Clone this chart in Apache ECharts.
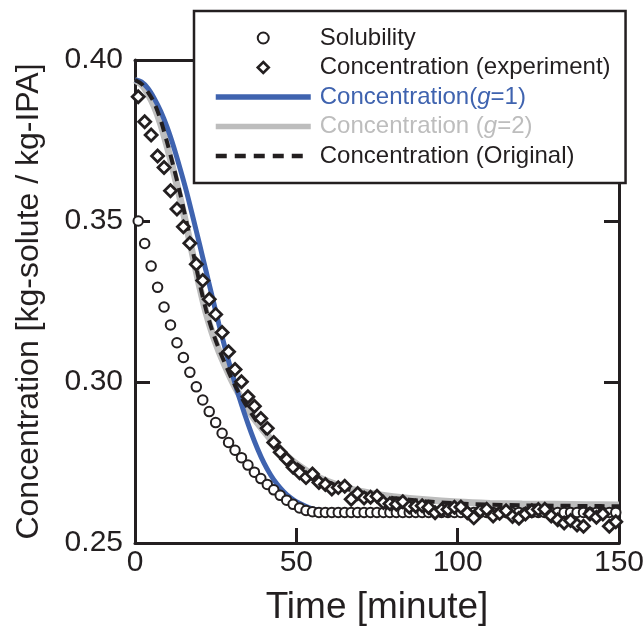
<!DOCTYPE html>
<html><head><meta charset="utf-8">
<script src="https://cdn.jsdelivr.net/npm/echarts@6/dist/echarts.min.js"></script>
<style>html,body{margin:0;padding:0;background:#fff}#chart{width:643px;height:632px}</style>
</head><body><div id="chart"></div>
<script>
// ---- data ----
const xTicks = [0, 50, 100, 150];
const yTicks = [0.25, 0.30, 0.35, 0.40];

const pointTime = [1,3,5,7,9,11,13,15,17,19,21,23,25,27,29,31,33,35,37,39,41,43,45,47,49,51,53,55,57,59,61,63,65,67,69,71,73,75,77,79,81,83,85,87,89,91,93,95,97,99,101,103,105,107,109,111,113,115,117,119,121,123,125,127,129,131,133,135,137,139,141,143,145,147,149];

const solubility = [0.3500,0.3430,0.3360,0.3294,0.3233,0.3177,0.3122,0.3076,0.3030,0.2985,0.2944,0.2908,0.2874,0.2841,0.2812,0.2788,0.2765,0.2742,0.2720,0.2700,0.2682,0.2665,0.2648,0.2633,0.2620,0.2609,0.2601,0.2597,
0.2595,0.2595,0.2595,0.2595,0.2595,0.2595,0.2595,0.2595,0.2595,0.2595,0.2595,0.2595,0.2595,0.2595,0.2595,0.2595,0.2595,0.2595,0.2595,0.2595,0.2595,0.2595,0.2595,0.2595,0.2595,0.2595,0.2595,0.2595,0.2595,0.2595,0.2595,0.2595,0.2595,0.2595,0.2595,0.2595,0.2595,0.2595,0.2595,0.2595,0.2595,0.2595,0.2595,0.2595,0.2595,0.2595,0.2595];

const experiment = [0.3886,0.3808,0.3767,0.3702,0.3666,0.3594,0.3537,0.3482,0.3431,0.3366,0.3315,0.3257,0.3210,0.3154,0.3094,0.3039,0.3001,0.2954,0.2925,0.2887,0.2856,0.2812,0.2782,0.2760,0.2735,0.2718,0.2703,0.2714,0.2688,0.2682,0.2668,0.2672,0.2676,0.2636,0.2654,0.2640,0.2642,0.2645,0.2626,0.2622,0.2620,0.2628,0.2612,0.2614,0.2616,0.2610,0.2594,0.2603,0.2604,0.2611,0.2612,0.2594,0.2578,0.2600,0.2605,0.2584,0.2592,0.2600,0.2582,0.2577,0.2590,0.2600,0.2604,0.2605,0.2584,0.2572,0.2562,0.2570,0.2556,0.2552,0.2590,0.2580,0.2590,0.2552,0.2566];

const lineTime = [0,2,4,6,8,10,12,14,16,18,20,22,24,26,28,30,32,34,36,38,40,42,44,46,48,50,55,60,65,70,75,80,90,100,110,120,130,140,150];

const modelG1 = [0.3938,0.3932,0.3912,0.3880,0.3840,0.3790,0.3730,0.3662,0.3590,0.3510,0.3428,0.3345,0.3262,0.3180,0.3102,0.3030,0.2962,0.2900,0.2843,0.2792,0.2748,0.2712,0.2683,0.2660,0.2642,0.2628,0.2606,0.2599,0.2597,0.2597,0.2597,0.2597,0.2597,0.2597,0.2597,0.2597,0.2597,0.2597,0.2597];

const modelG2 = [0.3938,0.3924,0.3895,0.3855,0.3800,0.3730,0.3652,0.3570,0.3482,0.3390,0.3298,0.3216,0.3150,0.3096,0.3049,0.3005,0.2966,0.2931,0.2900,0.2872,0.2847,0.2823,0.2801,0.2780,0.2762,0.2746,0.2713,0.2690,0.2673,0.2660,0.2651,0.2644,0.2634,0.2627,0.2623,0.2621,0.2620,0.2619,0.2618];

const modelOriginal = [0.3938,0.3926,0.3900,0.3866,0.3812,0.3742,0.3666,0.3585,0.3495,0.3402,0.3308,0.3225,0.3158,0.3103,0.3055,0.3010,0.2970,0.2935,0.2903,0.2875,0.2849,0.2825,0.2802,0.2781,0.2762,0.2746,0.2712,0.2688,0.2670,0.2657,0.2647,0.2640,0.2630,0.2623,0.2619,0.2617,0.2616,0.2615,0.2614];

const seriesNames = ['Solubility', 'Concentration (experiment)', 'Concentration(g=1)', 'Concentration (g=2)', 'Concentration (Original)'];

// ---- styles ----
const FONT = "'Liberation Sans', Arial, Helvetica, sans-serif";
const INK = '#231F20';
const BLUE = '#3F63AF';
const GRAY = '#BDBDBD';
const DIAMOND_PATH = 'path://M5,0L10,5L5,10L0,5Z';

const pair = (xs, ys) => xs.map((x, i) => [x, ys[i]]);

const axisCommon = {
  type: 'value',
  axisLine: {show: true, onZero: false, lineStyle: {color: INK, width: 3}},
  axisTick: {show: true, inside: true, length: 15, lineStyle: {color: INK, width: 3}},
  splitLine: {show: false}
};

const chart = echarts.init(document.getElementById('chart'), null, {renderer: 'canvas'});
chart.setOption({
  animation: false,
  backgroundColor: '#ffffff',
  grid: {left: 135, right: 24, top: 60, bottom: 89, containLabel: false, outerBoundsMode: 'none'},
  xAxis: [
    Object.assign({}, axisCommon, {
      min: xTicks[0], max: xTicks[xTicks.length - 1], interval: xTicks[1] - xTicks[0],
      position: 'bottom',
      axisLabel: {show: true, fontSize: 30, fontFamily: FONT, color: INK, margin: 5},
      name: 'Time [minute]', nameLocation: 'middle', nameGap: 46,
      nameTextStyle: {fontSize: 37, fontFamily: FONT, color: INK}
    }),
    Object.assign({}, axisCommon, {
      min: xTicks[0], max: xTicks[xTicks.length - 1], interval: xTicks[1] - xTicks[0],
      position: 'top', axisLabel: {show: false}
    })
  ],
  yAxis: [
    Object.assign({}, axisCommon, {
      min: yTicks[0], max: yTicks[yTicks.length - 1], interval: 0.05,
      position: 'left',
      axisLabel: {show: true, fontSize: 30, fontFamily: FONT, color: INK, margin: 12,
                  formatter: v => v.toFixed(2)},
      name: 'Concentration [kg-solute / kg-IPA]', nameLocation: 'middle', nameGap: 90,
      nameTextStyle: {fontSize: 32, fontFamily: FONT, color: INK}
    }),
    Object.assign({}, axisCommon, {
      min: yTicks[0], max: yTicks[yTicks.length - 1], interval: 0.05,
      position: 'right', axisLabel: {show: false}
    })
  ],
  legend: {
    orient: 'vertical', left: 194, top: 11,
    padding: [15, 15, 15, 19],
    itemWidth: 95, itemHeight: 11, itemGap: 5.5,
    symbolKeepAspect: true,
    selectedMode: false,
    backgroundColor: '#ffffff', borderColor: INK, borderWidth: 2.5, borderRadius: 0,
    textStyle: {
      fontFamily: FONT, fontSize: 24, lineHeight: 24, color: INK, padding: [0, 0, 0, 4],
      rich: {
        ib: {fontFamily: FONT, fontSize: 24, lineHeight: 24, fontStyle: 'italic', color: BLUE},
        ig: {fontFamily: FONT, fontSize: 24, lineHeight: 24, fontStyle: 'italic', color: GRAY}
      }
    },
    formatter: function (name) {
      if (name === seriesNames[2]) return 'Concentration({ib|g}=1)';
      if (name === seriesNames[3]) return 'Concentration ({ig|g}=2)';
      return name;
    },
    data: [
      {name: seriesNames[0], itemStyle: {borderWidth: 2}},
      {name: seriesNames[1], icon: DIAMOND_PATH, itemStyle: {borderWidth: 2.6}},
      {name: seriesNames[2], textStyle: {color: BLUE}, itemStyle: {opacity: 0},
       lineStyle: {width: 5.5, color: BLUE}},
      {name: seriesNames[3], textStyle: {color: GRAY}, itemStyle: {opacity: 0},
       lineStyle: {width: 5.5, color: GRAY}},
      {name: seriesNames[4], itemStyle: {opacity: 0},
       lineStyle: {width: 4.5, color: INK, type: [11, 8]}}
    ]
  },
  series: [
    {
      name: seriesNames[3], type: 'line', data: pair(lineTime, modelG2),
      symbol: 'none', smooth: 0.3, silent: true, z: 2,
      lineStyle: {color: GRAY, width: 7}, itemStyle: {color: GRAY}
    },
    {
      name: seriesNames[2], type: 'line', data: pair(lineTime, modelG1),
      symbol: 'none', smooth: 0.3, silent: true, z: 3,
      lineStyle: {color: BLUE, width: 5}, itemStyle: {color: BLUE}
    },
    {
      name: seriesNames[4], type: 'line', data: pair(lineTime, modelOriginal),
      symbol: 'none', smooth: 0.3, silent: true, z: 4,
      lineStyle: {color: INK, width: 4, type: [10, 7]}, itemStyle: {color: INK}
    },
    {
      name: seriesNames[0], type: 'scatter', data: pair(pointTime, solubility),
      symbol: 'circle', symbolSize: 9.5, silent: true, z: 5,
      itemStyle: {color: '#ffffff', borderColor: INK, borderWidth: 2, opacity: 1}
    },
    {
      name: seriesNames[1], type: 'scatter', data: pair(pointTime, experiment),
      symbol: 'diamond', symbolSize: 12, silent: true, z: 6,
      itemStyle: {color: '#ffffff', borderColor: INK, borderWidth: 2.8, opacity: 1}
    }
  ]
});
</script>
</body></html>
